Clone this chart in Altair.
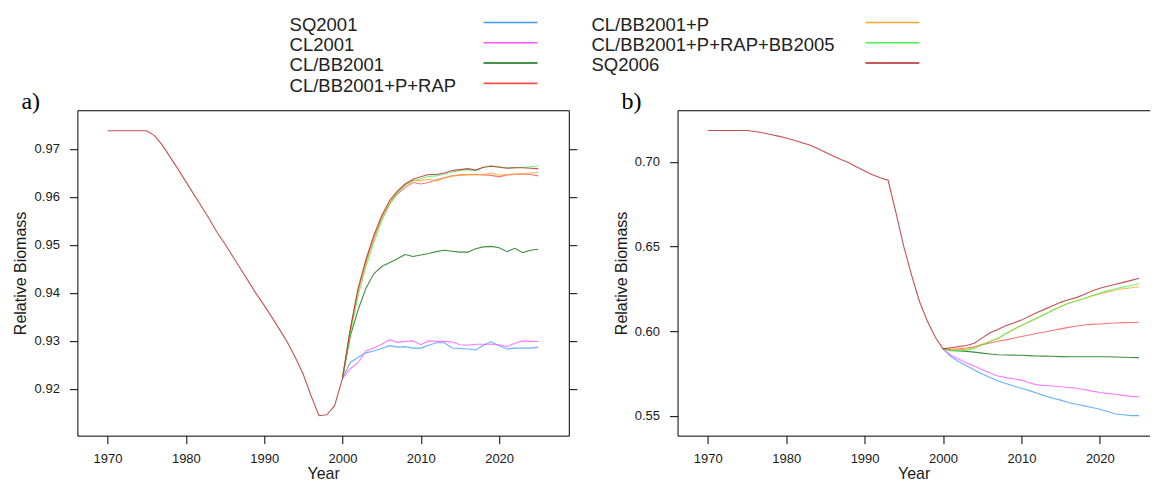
import altair as alt
import pandas as pd

# ---------------- data ----------------
NAMES = ["SQ2001", "CL2001", "CL/BB2001", "CL/BB2001+P+RAP",
         "CL/BB2001+P", "CL/BB2001+P+RAP+BB2005", "SQ2006"]
COLORS = ["#3D9BFF", "#FF55FF", "#0A6E0A", "#FF5050",
          "#FFA530", "#50EE50", "#B22222"]

YEARS_HIST = list(range(1970, 2001))
YEARS_PROJ = list(range(2000, 2026))

X_TICKS = [1970, 1980, 1990, 2000, 2010, 2020]
A_Y_TICKS = [0.92, 0.93, 0.94, 0.95, 0.96, 0.97]
B_Y_TICKS = [0.55, 0.60, 0.65, 0.70]

# panel a) history 1970-2000
A_HIST = [0.9738, 0.9738, 0.9738, 0.9738, 0.9738, 0.9738, 0.9728, 0.9708,
          0.9683, 0.9658, 0.9632, 0.9606, 0.9580, 0.9554, 0.9526, 0.9502,
          0.9476, 0.9450, 0.9424, 0.9398, 0.9374, 0.9349, 0.9323, 0.9296,
          0.9265, 0.9230, 0.9185, 0.9144, 0.9146, 0.9165, 0.9222]
# panel a) projections 2000-2025
A_SQ2001 = [0.9222, 0.9255, 0.9266, 0.9275, 0.9279, 0.9284, 0.9290, 0.9287,
            0.9288, 0.9285, 0.9285, 0.9291, 0.9296, 0.9296, 0.9285, 0.9284,
            0.9283, 0.9281, 0.9291, 0.9298, 0.9290, 0.9283, 0.9285, 0.9285,
            0.9285, 0.9287]
A_CL2001 = [0.9222, 0.9242, 0.9255, 0.9279, 0.9285, 0.9293, 0.9302, 0.9297,
            0.9299, 0.9300, 0.9292, 0.9300, 0.9299, 0.9299, 0.9298, 0.9292,
            0.9291, 0.9293, 0.9293, 0.9293, 0.9292, 0.9288, 0.9295, 0.9300,
            0.9299, 0.9299]
A_CLBB = [0.9222, 0.9310, 0.9365, 0.9410, 0.9440, 0.9455, 0.9463, 0.9471,
          0.9480, 0.9476, 0.9479, 0.9482, 0.9486, 0.9489, 0.9487, 0.9485,
          0.9485, 0.9492, 0.9496, 0.9497, 0.9494, 0.9486, 0.9493, 0.9484,
          0.9489, 0.9491]
A_CLBB_P_RAP = [0.9222, 0.9322, 0.9405, 0.9464, 0.9514, 0.9556, 0.9586, 0.9606,
                0.9620, 0.9630, 0.9627, 0.9630, 0.9636, 0.9640, 0.9644, 0.9646,
                0.9647, 0.9647, 0.9646, 0.9645, 0.9642, 0.9646, 0.9647, 0.9648,
                0.9647, 0.9644]
A_CLBB_P = [0.9222, 0.9322, 0.9405, 0.9464, 0.9514, 0.9556, 0.9588, 0.9610,
            0.9625, 0.9634, 0.9634, 0.9637, 0.9633, 0.9639, 0.9644, 0.9645,
            0.9646, 0.9646, 0.9647, 0.9650, 0.9645, 0.9647, 0.9648, 0.9649,
            0.9650, 0.9651]
A_CLBB_BB2005 = [0.9222, 0.9315, 0.9395, 0.9455, 0.9505, 0.9550, 0.9584, 0.9608,
                 0.9625, 0.9634, 0.9638, 0.9643, 0.9644, 0.9648, 0.9652, 0.9655,
                 0.9657, 0.9655, 0.9662, 0.9665, 0.9663, 0.9661, 0.9661, 0.9662,
                 0.9663, 0.9665]
A_SQ2006 = [0.9222, 0.9325, 0.9410, 0.9470, 0.9520, 0.9561, 0.9592, 0.9612,
            0.9627, 0.9637, 0.9642, 0.9647, 0.9647, 0.9650, 0.9655, 0.9657,
            0.9659, 0.9656, 0.9662, 0.9664, 0.9662, 0.9660, 0.9661, 0.9661,
            0.9660, 0.9659]

# panel b) history 1970-2000
B_HIST = [0.7186, 0.7186, 0.7186, 0.7186, 0.7186, 0.7186, 0.7180, 0.7173,
          0.7163, 0.7153, 0.7142, 0.7129, 0.7114, 0.7100, 0.7080, 0.7058,
          0.7036, 0.7015, 0.6996, 0.6970, 0.6947, 0.6925, 0.6907, 0.6892,
          0.6700, 0.6500, 0.6330, 0.6175, 0.6060, 0.5965, 0.5895]
# panel b) projections 2000-2025
B_SQ2001 = [0.5895, 0.5850, 0.5820, 0.5795, 0.5770, 0.5747, 0.5725, 0.5705,
            0.5690, 0.5675, 0.5662, 0.5648, 0.5633, 0.5617, 0.5603, 0.5592,
            0.5578, 0.5568, 0.5558, 0.5548, 0.5538, 0.5525, 0.5510, 0.5505,
            0.5500, 0.5500]
B_CL2001 = [0.5895, 0.5858, 0.5835, 0.5812, 0.5793, 0.5772, 0.5752, 0.5735,
            0.5725, 0.5718, 0.5710, 0.5695, 0.5682, 0.5678, 0.5675, 0.5671,
            0.5667, 0.5662, 0.5655, 0.5645, 0.5637, 0.5632, 0.5627, 0.5620,
            0.5614, 0.5612]
B_CLBB = [0.5895, 0.5888, 0.5883, 0.5880, 0.5876, 0.5870, 0.5865, 0.5860,
          0.5859, 0.5858, 0.5857, 0.5855, 0.5853, 0.5852, 0.5851, 0.5849,
          0.5848, 0.5848, 0.5848, 0.5848, 0.5848, 0.5848, 0.5847, 0.5845,
          0.5844, 0.5843]
B_CLBB_P_RAP = [0.5895, 0.5893, 0.5895, 0.5900, 0.5908, 0.5920, 0.5930, 0.5940,
                0.5948, 0.5958, 0.5968, 0.5977, 0.5987, 0.5995, 0.6005, 0.6013,
                0.6022, 0.6030, 0.6036, 0.6040, 0.6042, 0.6045, 0.6048, 0.6050,
                0.6051, 0.6052]
B_CLBB_P = [0.5895, 0.5888, 0.5890, 0.5893, 0.5905, 0.5922, 0.5940, 0.5957,
            0.5985, 0.6010, 0.6033, 0.6055, 0.6078, 0.6100, 0.6123, 0.6145,
            0.6165, 0.6178, 0.6193, 0.6208, 0.6220, 0.6232, 0.6242, 0.6250,
            0.6256, 0.6262]
B_CLBB_BB2005 = [0.5895, 0.5883, 0.5883, 0.5886, 0.5898, 0.5918, 0.5938, 0.5955,
                 0.5985, 0.6010, 0.6033, 0.6055, 0.6078, 0.6100, 0.6123, 0.6145,
                 0.6165, 0.6178, 0.6193, 0.6210, 0.6225, 0.6238, 0.6250, 0.6260,
                 0.6270, 0.6280]
B_SQ2006 = [0.5895, 0.5902, 0.5908, 0.5915, 0.5928, 0.5960, 0.5990, 0.6010,
            0.6032, 0.6048, 0.6065, 0.6088, 0.6110, 0.6130, 0.6150, 0.6170,
            0.6186, 0.6198, 0.6217, 0.6237, 0.6253, 0.6265, 0.6277, 0.6288,
            0.6300, 0.6313]

A_PROJ = dict(zip(NAMES, [A_SQ2001, A_CL2001, A_CLBB, A_CLBB_P_RAP,
                          A_CLBB_P, A_CLBB_BB2005, A_SQ2006]))
B_PROJ = dict(zip(NAMES, [B_SQ2001, B_CL2001, B_CLBB, B_CLBB_P_RAP,
                          B_CLBB_P, B_CLBB_BB2005, B_SQ2006]))


def long_df(hist, proj):
    recs = []
    for name in NAMES:
        years = list(YEARS_PROJ)
        vals = list(proj[name])
        if name == "SQ2006":
            years = YEARS_HIST[:-1] + years
            vals = list(hist[:-1]) + vals
        for yr, v in zip(years, vals):
            recs.append({"Year": yr, "value": v, "scenario": name})
    return pd.DataFrame(recs)


DF_A = long_df(A_HIST, A_PROJ)
DF_B = long_df(B_HIST, B_PROJ)

# ---------------- styling ----------------
FONT = "Liberation Sans"
TEXT = "#1a1a1a"
PANEL_H = 325.5
ONE = pd.DataFrame({"k": [0]})

color_enc = alt.Color("scenario:N", scale=alt.Scale(domain=NAMES, range=COLORS),
                      legend=None)

AX_COMMON = dict(grid=False, domain=True, domainColor="black", domainWidth=1,
                 tickColor="black", tickSize=8, labelFont=FONT,
                 labelFontSize=13, labelColor=TEXT, titleFont=FONT,
                 titleFontSize=16, titleFontWeight="normal", titleColor=TEXT,
                 titleBaseline="alphabetic")


def panel_layers(df, xdomain, ydomain, yticks, tag, right_side):
    xs = alt.Scale(domain=xdomain, nice=False, zero=False)
    ys = alt.Scale(domain=ydomain, nice=False, zero=False)
    x_bottom = alt.X("Year:Q", scale=xs, axis=alt.Axis(
        values=X_TICKS, format="d", title="Year", labelPadding=8.5,
        titleY=43, **AX_COMMON))
    y_left = alt.Y("value:Q", scale=ys, axis=alt.Axis(
        values=yticks, format=".2f", title="Relative Biomass",
        labelPadding=10, titleX=-51.5, **AX_COMMON))
    lines = alt.Chart(df).mark_line(strokeWidth=1.1, strokeOpacity=0.78).encode(
        x=x_bottom, y=y_left, color=color_enc)

    x_top = alt.X("Year:Q", scale=xs, axis=alt.Axis(
        orient="top", labels=False, ticks=False, title=None, grid=False,
        domain=True, domainColor="black", domainWidth=1))
    if right_side:
        y_right = alt.Y("value:Q", scale=ys, axis=alt.Axis(
            orient="right", values=yticks, labels=False, title=None,
            grid=False, domain=True, domainColor="black", domainWidth=1,
            tickSize=8, tickColor="black"))
    else:
        y_right = alt.Y("value:Q", scale=ys, axis=None)
    frame = alt.Chart(df).mark_line(opacity=0).encode(
        x=x_top, y=y_right, detail="scenario:N")

    label = alt.Chart(ONE).mark_text(
        font="Liberation Serif", fontSize=24, align="left",
        baseline="alphabetic", color="black").encode(
        x=alt.value(-56), y=alt.value(-1), text=alt.value(tag))
    return [lines, frame, label]


def legend_layers():
    text_x = [212.3, 514.3]
    rule_x = [(406.3, 460.3), (788.3, 842.3)]
    out = []
    for i, (name, col) in enumerate(zip(NAMES, COLORS)):
        c, r = i // 4, i % 4
        out.append(alt.Chart(ONE).mark_text(
            font=FONT, fontSize=18.5, align="left", baseline="middle",
            color="#222222").encode(
            x=alt.value(text_x[c]), y=alt.value(-85.3 + 20.2 * r),
            text=alt.value(name)))
        out.append(alt.Chart(ONE).mark_rule(color=col, strokeWidth=1.6).encode(
            x=alt.value(rule_x[c][0]), x2=alt.value(rule_x[c][1]),
            y=alt.value(-87.8 + 20.3 * r)))
    return out


panel_a = alt.layer(
    *panel_layers(DF_A, [1966.15, 2028.9], [0.91025, 0.97808], A_Y_TICKS,
                  "a)", True),
    *legend_layers()
).resolve_axis(x="independent", y="independent").properties(
    width=491.6, height=PANEL_H)

panel_b = alt.layer(
    *panel_layers(DF_B, [1966.15, 2026.36], [0.5382, 0.7306], B_Y_TICKS,
                  "b)", False)
).resolve_axis(x="independent", y="independent").properties(
    width=472.3, height=PANEL_H)

chart = alt.hconcat(panel_a, panel_b, spacing=108.4, bounds="flush").properties(
    padding={"left": 4.4, "top": 7.2, "right": 0, "bottom": 0}
).configure_view(strokeOpacity=0)

chart.save("out.html", embed_options={"renderer": "svg", "actions": False})
